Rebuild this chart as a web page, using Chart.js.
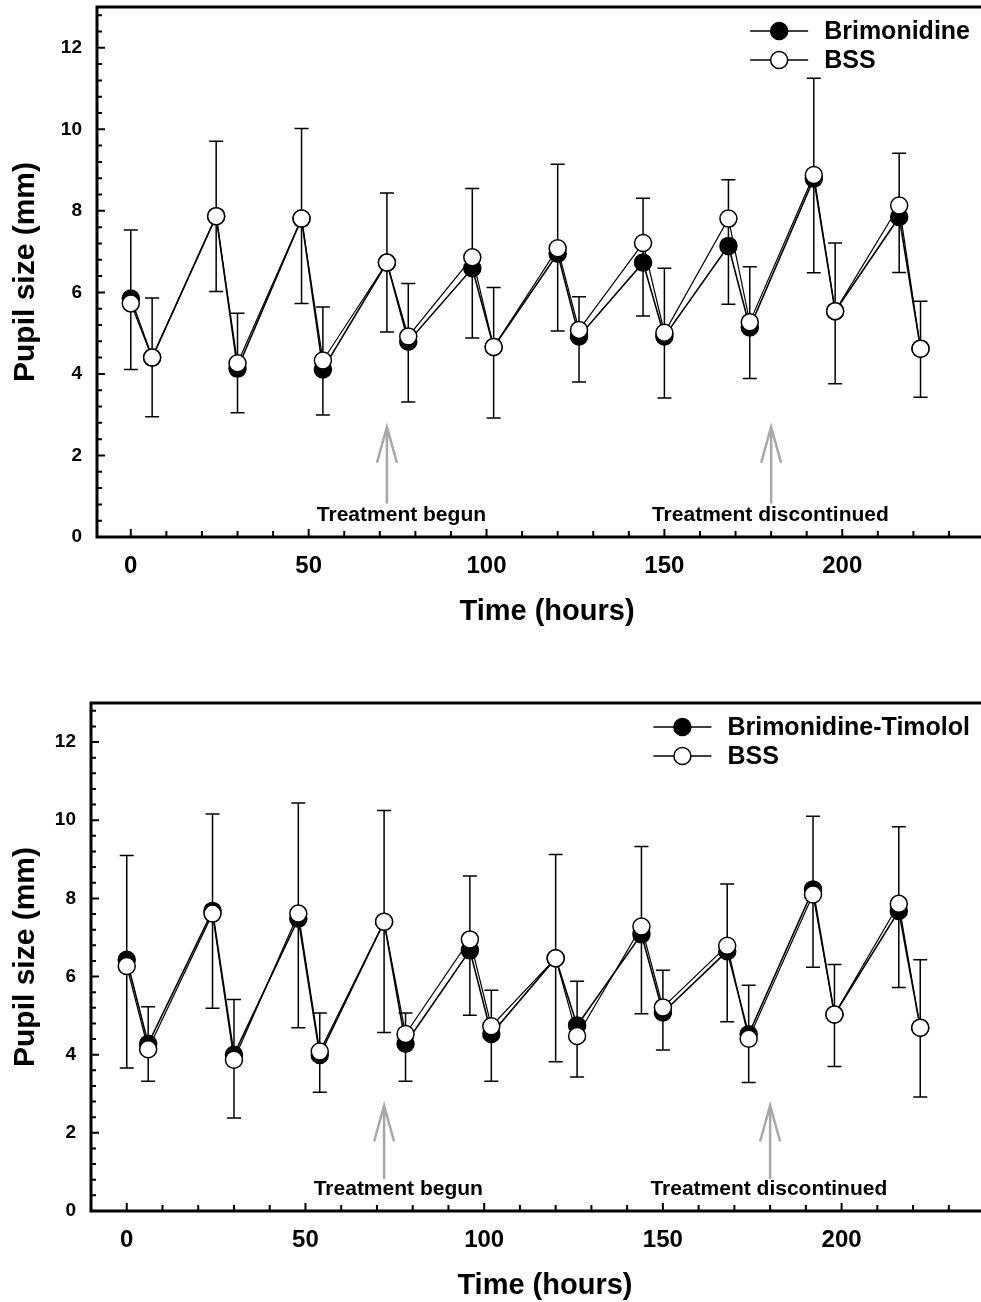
<!DOCTYPE html>
<html>
<head>
<meta charset="utf-8">
<script src="https://cdn.jsdelivr.net/npm/chart.js@4.4.1/dist/chart.umd.min.js"></script>
<style>
  body { margin: 0; background: #fff; }
  canvas { display: block; }
</style>
</head>
<body>
<canvas id="top" width="981" height="650"></canvas>
<canvas id="bottom" width="981" height="652"></canvas>
<script>
// time points (hours)
const hours = [0, 6, 24, 30, 48, 54, 72, 78, 96, 102, 120, 126, 144, 150, 168, 174, 192, 198, 216, 222];

// upper panel
const brimonidine = [5.85, 4.40, 7.87, 4.13, 7.81, 4.11, 6.73, 4.79, 6.59, 4.66, 6.95, 4.92, 6.73, 4.92, 7.14, 5.14, 8.79, 5.54, 7.85, 4.62];
const bssTop      = [5.73, 4.40, 7.87, 4.26, 7.81, 4.33, 6.73, 4.92, 6.86, 4.66, 7.08, 5.08, 7.21, 5.01, 7.81, 5.27, 8.88, 5.54, 8.13, 4.62];
const errHighTop  = [7.53, 5.86, 9.71, 5.49, 10.02, 5.64, 8.44, 6.22, 8.55, 6.12, 9.14, 5.89, 8.31, 6.59, 8.76, 6.63, 11.25, 7.21, 9.41, 5.78];
const errLowTop   = [4.11, 2.95, 6.02, 3.05, 5.73, 2.99, 5.03, 3.31, 4.88, 2.92, 5.05, 3.80, 5.42, 3.41, 5.71, 3.89, 6.48, 3.76, 6.49, 3.43];

// lower panel
const brimTimolol = [6.43, 4.28, 7.68, 4.00, 7.48, 3.99, 7.40, 4.28, 6.67, 4.53, 6.47, 4.75, 7.08, 5.08, 6.65, 4.52, 8.23, 5.03, 7.68, 4.69];
const bssBottom   = [6.27, 4.14, 7.61, 3.87, 7.61, 4.08, 7.40, 4.53, 6.95, 4.73, 6.47, 4.48, 7.28, 5.21, 6.79, 4.41, 8.10, 5.03, 7.86, 4.69];
const errHighBot  = [9.10, 5.23, 10.16, 5.41, 10.44, 5.07, 10.25, 5.07, 8.57, 5.65, 9.12, 5.88, 9.33, 6.16, 8.37, 5.78, 10.10, 6.31, 9.83, 6.43];
const errLowBot   = [3.66, 3.32, 5.19, 2.38, 4.69, 3.04, 4.57, 3.32, 5.01, 3.32, 3.82, 3.43, 5.05, 4.12, 4.84, 3.29, 6.24, 3.70, 5.72, 2.92];

const xTicks = [0, 50, 100, 150, 200];
const yTicks = [0, 2, 4, 6, 8, 10, 12];

const FONT = "'Liberation Sans', Arial, sans-serif";

// error bars, frame, inward ticks, arrows, legend, axis titles
const figure = {
  id: 'figure',
  beforeDatasetsDraw(chart, args, o) {
    const {ctx, scales: {x, y}} = chart;
    ctx.save();
    ctx.strokeStyle = '#000';
    ctx.lineWidth = 1.5;
    hours.forEach((h, i) => {
      const px = x.getPixelForValue(h);
      const t = y.getPixelForValue(o.hi[i]);
      const b = y.getPixelForValue(o.lo[i]);
      ctx.beginPath();
      ctx.moveTo(px, t); ctx.lineTo(px, b);
      ctx.moveTo(px - 7, t); ctx.lineTo(px + 7, t);
      ctx.moveTo(px - 7, b); ctx.lineTo(px + 7, b);
      ctx.stroke();
    });
    ctx.restore();
  },
  afterDraw(chart, args, o) {
    const {ctx, chartArea: a, scales: {x, y}} = chart;
    ctx.save();

    // axes and top frame line
    ctx.strokeStyle = '#000';
    ctx.lineWidth = 3;
    ctx.beginPath();
    ctx.moveTo(a.right + 2, a.top);
    ctx.lineTo(a.left, a.top);
    ctx.lineTo(a.left, a.bottom);
    ctx.lineTo(a.right + 2, a.bottom);
    ctx.stroke();

    // inward ticks
    ctx.lineWidth = 2;
    ctx.beginPath();
    for (let v = 0; v <= 230; v += 10) {
      const px = x.getPixelForValue(v);
      ctx.moveTo(px, a.bottom);
      ctx.lineTo(px, a.bottom - (v % 50 === 0 ? 8 : 6));
    }
    for (let k = 1; k <= 32; k++) {
      const v = k * 0.4;
      const py = y.getPixelForValue(v);
      const major = Math.abs(v / 2 - Math.round(v / 2)) < 0.01;
      ctx.moveTo(a.left, py);
      ctx.lineTo(a.left + (major ? 8 : 5), py);
    }
    ctx.stroke();

    // treatment arrows and notes
    o.notes.forEach(n => {
      const px = x.getPixelForValue(n.at);
      const tip = y.getPixelForValue(2.7);
      const base = y.getPixelForValue(0.82);
      ctx.strokeStyle = '#a8a8a8';
      ctx.lineWidth = 2.5;
      ctx.beginPath();
      ctx.moveTo(px, base); ctx.lineTo(px, tip);
      ctx.moveTo(px - 10, tip + 36); ctx.lineTo(px, tip); ctx.lineTo(px + 10, tip + 36);
      ctx.stroke();
      ctx.fillStyle = '#000';
      ctx.font = `bold 21px ${FONT}`;
      ctx.textAlign = 'left';
      ctx.textBaseline = 'alphabetic';
      ctx.fillText(n.text, x.getPixelForValue(n.textAt), y.getPixelForValue(0.4));
    });

    // legend
    const ds = chart.data.datasets;
    ctx.font = `bold 25px ${FONT}`;
    const w = Math.max(...ds.map(d => ctx.measureText(d.label).width));
    const tx = a.right - 11 - w;
    const cx = tx - 45;
    ds.forEach((d, i) => {
      const cy = a.top + 24 + i * 29;
      ctx.strokeStyle = '#000';
      ctx.lineWidth = 1.5;
      ctx.beginPath();
      ctx.moveTo(cx - 29, cy); ctx.lineTo(cx + 29, cy);
      ctx.stroke();
      ctx.beginPath();
      ctx.arc(cx, cy, 8.5, 0, Math.PI * 2);
      ctx.fillStyle = d.pointBackgroundColor;
      ctx.fill();
      ctx.stroke();
      ctx.fillStyle = '#000';
      ctx.textAlign = 'left';
      ctx.textBaseline = 'middle';
      ctx.fillText(d.label, tx, cy + 1);
    });

    // axis titles
    ctx.fillStyle = '#000';
    ctx.textAlign = 'center';
    ctx.textBaseline = 'middle';
    ctx.font = `bold 29px ${FONT}`;
    ctx.fillText('Time (hours)', x.getPixelForValue(117), a.bottom + 75);
    ctx.translate(26, (a.top + a.bottom) / 2);
    ctx.rotate(-Math.PI / 2);
    ctx.font = `bold 30px ${FONT}`;
    ctx.fillText('Pupil size (mm)', 0, 0);
    ctx.restore();
  }
};

function makeChart(id, drug, drugVals, bssVals, hi, lo, box) {
  return new Chart(document.getElementById(id), {
    type: 'line',
    data: {
      datasets: [
        {
          label: drug,
          data: hours.map((h, i) => ({x: h, y: drugVals[i]})),
          borderColor: '#000', borderWidth: 1.6,
          pointBackgroundColor: '#000', pointBorderColor: '#000',
          pointRadius: 8.5, pointBorderWidth: 1.5, order: 2
        },
        {
          label: 'BSS',
          data: hours.map((h, i) => ({x: h, y: bssVals[i]})),
          borderColor: '#000', borderWidth: 1.2,
          pointBackgroundColor: '#fff', pointBorderColor: '#000',
          pointRadius: 8.5, pointBorderWidth: 1.5, order: 1
        }
      ]
    },
    options: {
      responsive: false,
      animation: false,
      layout: { autoPadding: false, padding: { top: box.top, left: 0, right: 0, bottom: 0 } },
      scales: {
        x: {
          type: 'linear', min: box.xmin, max: 239,
          grid: { display: false, drawTicks: false },
          border: { display: false },
          afterBuildTicks: s => { s.ticks = xTicks.map(v => ({value: v})); },
          afterFit: s => { s.height = box.xh; s.paddingLeft = 0; s.paddingRight = 0; },
          ticks: { color: '#000', padding: 15, maxRotation: 0, font: { family: FONT, size: 24, weight: 'bold' } }
        },
        y: {
          min: 0, max: 13,
          grid: { display: false, drawTicks: false },
          border: { display: false },
          afterBuildTicks: s => { s.ticks = yTicks.map(v => ({value: v})); },
          afterFit: s => { s.width = box.left; s.paddingTop = 0; s.paddingBottom = 0; },
          ticks: { color: '#000', padding: 15, font: { family: FONT, size: 19, weight: 'bold' } }
        }
      },
      plugins: {
        legend: { display: false },
        tooltip: { enabled: false },
        figure: {
          hi: hi, lo: lo,
          notes: [
            { text: 'Treatment begun', at: 72, textAt: 52.3 },
            { text: 'Treatment discontinued', at: 180, textAt: 146.5 }
          ]
        }
      }
    },
    plugins: [figure]
  });
}

makeChart('top', 'Brimonidine', brimonidine, bssTop, errHighTop, errLowTop,
  { top: 7, left: 97, xh: 113, xmin: -9.5 });
makeChart('bottom', 'Brimonidine-Timolol', brimTimolol, bssBottom, errHighBot, errLowBot,
  { top: 53, left: 91, xh: 91, xmin: -10 });
</script>
</body>
</html>
